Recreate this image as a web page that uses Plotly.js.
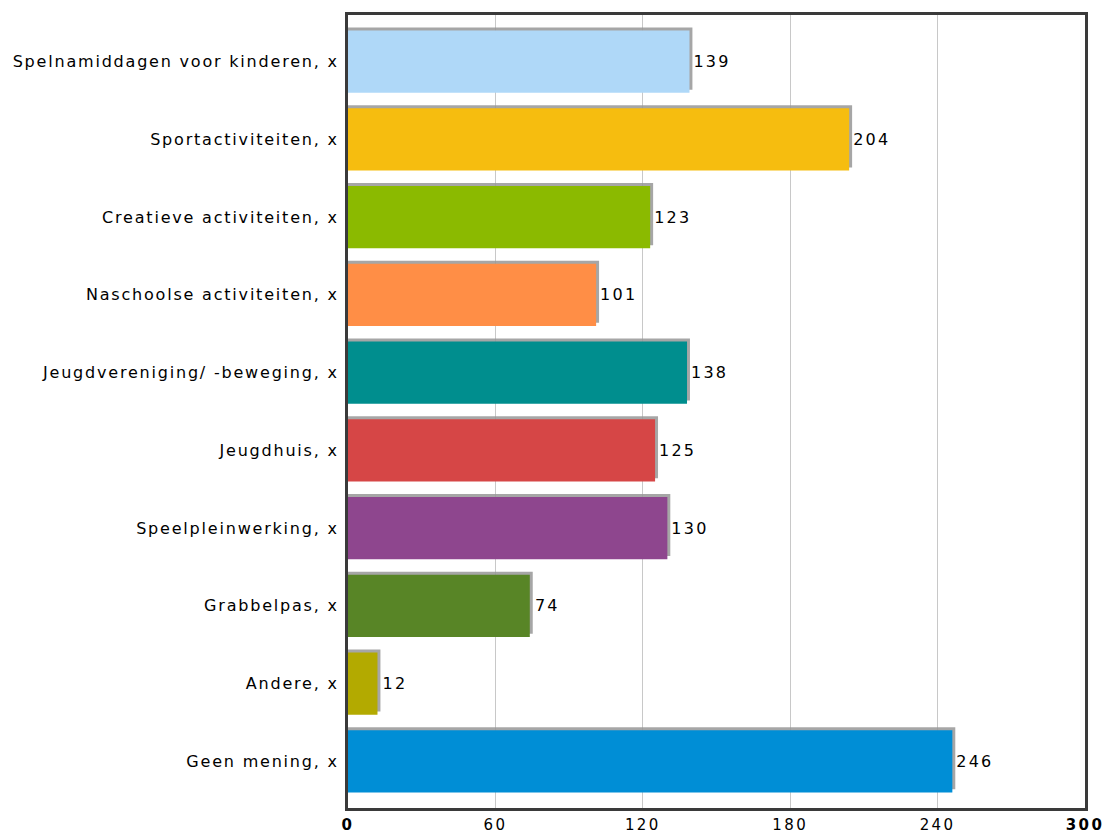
<!DOCTYPE html>
<html>
<head>
<meta charset="utf-8">
<script src="https://cdn.plot.ly/plotly-3.0.1.min.js"></script>
<style>
  html, body { margin: 0; padding: 0; background: #fff; }
  #chart { width: 1105px; height: 834px; }
  .ytick text { letter-spacing: 1.8px; }
  .xtick text { letter-spacing: 2.4px; }
  .bars .bartext, .textpoint text { letter-spacing: 2.2px; }
</style>
</head>
<body>
<div id="chart"></div>
<script>
const categories = [
  "Spelnamiddagen voor kinderen, x",
  "Sportactiviteiten, x",
  "Creatieve activiteiten, x",
  "Naschoolse activiteiten, x",
  "Jeugdvereniging/ -beweging, x",
  "Jeugdhuis, x",
  "Speelpleinwerking, x",
  "Grabbelpas, x",
  "Andere, x",
  "Geen mening, x"
];
const values = [139, 204, 123, 101, 138, 125, 130, 74, 12, 246];
const barColors = ["#AFD8F8", "#F6BD0F", "#8BBA00", "#FF8E46", "#008E8E",
                   "#D64646", "#8E468E", "#588526", "#B3AA00", "#008ED6"];
const xTickVals = [0, 60, 120, 180, 240, 300];
const xTickText = ["<b>0</b>", "60", "120", "180", "240", "<b>300</b>"];

const shadow = {
  type: "bar", orientation: "h",
  y: categories,
  x: values.map(v => v + 1.2),
  width: 0.8, offset: -0.44,
  marker: { color: "rgba(150,150,150,0.85)" },
  hoverinfo: "skip", showlegend: false
};
const bars = {
  type: "bar", orientation: "h",
  y: categories,
  x: values,
  width: 0.8, offset: -0.4,
  marker: { color: barColors },
  text: values.map(v => "\u2009" + v),
  textposition: "outside",
  cliponaxis: false,
  textfont: { family: "DejaVu Sans, Verdana, sans-serif", size: 16, color: "#000" },
  hoverinfo: "skip", showlegend: false
};

const layout = {
  width: 1105, height: 834,
  margin: { l: 348, r: 20, t: 15, b: 26 },
  paper_bgcolor: "#fff", plot_bgcolor: "#fff",
  barmode: "overlay",
  xaxis: {
    range: [0, 300],
    tickvals: xTickVals, ticktext: xTickText,
    showgrid: true, gridcolor: "#c8c8c8", gridwidth: 1,
    showline: true, mirror: true, linecolor: "#3a3a3a", linewidth: 3,
    zeroline: false, ticks: "",
    ticklabelstandoff: 1,
    ticklabeloverflow: "allow",
    tickfont: { family: "DejaVu Sans, Verdana, sans-serif", size: 15, color: "#000" }
  },
  yaxis: {
    type: "category",
    range: [9.6, -0.6],
    showgrid: false,
    showline: true, mirror: true, linecolor: "#3a3a3a", linewidth: 3,
    zeroline: false, ticks: "",
    ticklabelstandoff: 3,
    tickfont: { family: "DejaVu Sans, Verdana, sans-serif", size: 16, color: "#000" }
  }
};

Plotly.newPlot("chart", [shadow, bars], layout, { displayModeBar: false, staticPlot: true });
</script>
</body>
</html>
